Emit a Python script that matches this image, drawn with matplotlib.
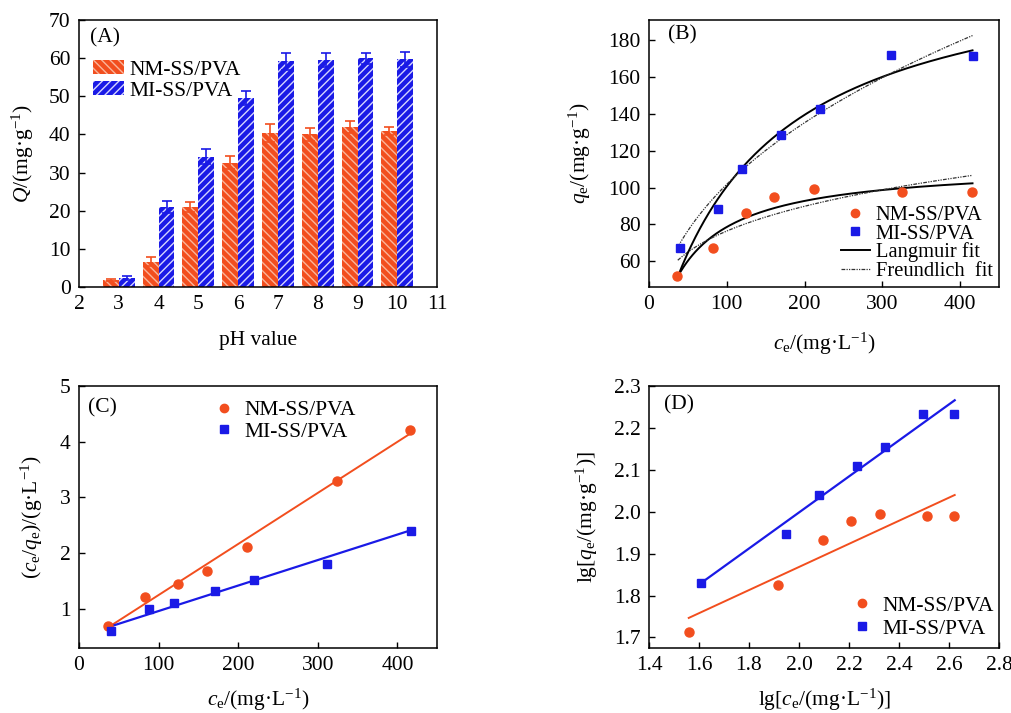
import numpy as np
import matplotlib
matplotlib.use("Agg")
import matplotlib.pyplot as plt
from matplotlib.patches import Patch
from matplotlib.lines import Line2D

plt.rcParams['font.family'] = ['Liberation Serif', 'DejaVu Serif']
plt.rcParams['mathtext.fontset'] = 'custom'
plt.rcParams['mathtext.rm'] = 'Liberation Serif'
plt.rcParams['mathtext.it'] = 'Liberation Serif:italic'
plt.rcParams['font.size'] = 15.5
plt.rcParams['hatch.linewidth'] = 1.0

ORANGE = '#F24E1E'
BLUE = '#1A1AE6'

# (A) adsorption vs pH
ph = [3, 4, 5, 6, 7, 8, 9, 10]
q_nm = [1.8, 6.6, 20.9, 32.6, 40.3, 40.0, 42.0, 40.9]
q_nm_err = [0.3, 1.2, 1.3, 1.7, 2.4, 1.7, 1.6, 1.0]
q_mi = [2.4, 20.9, 34.2, 49.5, 59.2, 59.5, 59.9, 59.7]
q_mi_err = [0.6, 1.6, 2.0, 1.8, 2.2, 1.9, 1.5, 2.0]

# (B) isotherms
ce_nm = [36.0, 82.6, 124.7, 161.0, 211.6, 324.7, 415.5]
qe_nm = [51.9, 67.0, 86.2, 94.9, 99.1, 97.6, 97.6]
ce_mi = [40.0, 88.6, 120.0, 170.3, 219.4, 311.8, 416.8]
qe_mi = [67.4, 88.6, 109.8, 128.8, 142.9, 171.9, 171.5]
# fit parameters (qm, KL) and (KF, 1/n)
lang_nm = (113.1, 0.02276)
lang_mi = (227.4, 0.00793)
freu_nm = (26.0, 0.234)
freu_mi = (15.4, 0.41)

# (C) Langmuir linear form
cq_nm = [0.695, 1.222, 1.443, 1.689, 2.12, 3.299, 4.216]
cq_mi = [0.60, 0.994, 1.102, 1.317, 1.527, 1.808, 2.407]
linC_nm = (0.00916, 0.333)
linC_mi = (0.004573, 0.505)

# (D) Freundlich linear form
lgc_nm = [1.561, 1.917, 2.097, 2.209, 2.325, 2.512, 2.619]
lgq_nm = [1.714, 1.826, 1.933, 1.977, 1.995, 1.989, 1.989]
lgc_mi = [1.608, 1.947, 2.081, 2.232, 2.343, 2.496, 2.620]
lgq_mi = [1.829, 1.947, 2.040, 2.108, 2.155, 2.234, 2.234]
linD_nm = (0.2756, 1.317)
linD_mi = (0.4296, 1.139)

fig = plt.figure(figsize=(10.12, 7.13), dpi=100)
axA = fig.add_axes([0.078, 0.5975, 0.354, 0.3745])
axB = fig.add_axes([0.6413, 0.5975, 0.3458, 0.3745])
axC = fig.add_axes([0.078, 0.0912, 0.354, 0.3675])
axD = fig.add_axes([0.6413, 0.0912, 0.3458, 0.3675])

for ax in (axA, axB, axC, axD):
    ax.tick_params(direction='in', length=4.5, width=1, pad=6, labelsize=15.5)
    for s in ax.spines.values():
        s.set_linewidth(1.1)

# ---- A
x = np.array(ph)
w = 0.4
axA.bar(x - 0.2, q_nm, w, color=ORANGE, edgecolor='#FAB59A', hatch='\\\\\\\\', linewidth=0)
axA.bar(x + 0.2, q_mi, w, color=BLUE, edgecolor='#D5D5FF', hatch='////', linewidth=0)
axA.errorbar(x - 0.2, q_nm, yerr=q_nm_err, fmt='none', ecolor=ORANGE, capsize=3.5, elinewidth=1.2, capthick=1.2)
axA.errorbar(x + 0.2, q_mi, yerr=q_mi_err, fmt='none', ecolor=BLUE, capsize=3.5, elinewidth=1.2, capthick=1.2)
axA.set_xlim(2, 11)
axA.set_ylim(0, 70)
axA.set_xticks(range(2, 12))
axA.set_yticks(range(0, 71, 10))
axA.tick_params(axis='x', length=0)
axA.set_xlabel('pH value')
axA.set_ylabel(r'$\mathit{Q}$/(mg·g$^{-1}$)')
axA.xaxis.set_label_coords(0.5, -0.165)
axA.yaxis.set_label_coords(-0.12, 0.5)
axA.text(0.03, 0.933, '(A)', transform=axA.transAxes, va='center')
hA = [Patch(facecolor=ORANGE, edgecolor='#FAB59A', hatch='\\\\\\\\', linewidth=0),
      Patch(facecolor=BLUE, edgecolor='#D5D5FF', hatch='////', linewidth=0)]
axA.legend(hA, ['NM-SS/PVA', 'MI-SS/PVA'], loc='upper left', bbox_to_anchor=(0.04, 0.85),
           frameon=False, handlelength=1.45, handleheight=0.65, handletextpad=0.25,
           labelspacing=0.05, borderpad=0, borderaxespad=0)

# ---- B
xf = np.linspace(37, 416, 200)
for (qm, kl), (kf, n1) in ((lang_nm, freu_nm), (lang_mi, freu_mi)):
    axB.plot(xf, qm * kl * xf / (1 + kl * xf), color='black', lw=1.4)
    axB.plot(xf, kf * xf ** n1, color='#333333', lw=0.9, dashes=(3, 1, 1, 1, 1, 1))
axB.plot(ce_nm, qe_nm, 'o', color=ORANGE, ms=6.5, zorder=3)
axB.plot(ce_mi, qe_mi, 's', color=BLUE, ms=6, zorder=3)
axB.set_xlim(0, 450)
axB.set_ylim(46, 191)
axB.set_xticks(range(0, 401, 100))
axB.set_yticks(range(60, 181, 20))
axB.set_xlabel(r'$c_\mathrm{e}$/(mg·L$^{-1}$)')
axB.set_ylabel(r'$q_\mathrm{e}$/(mg·g$^{-1}$)')
axB.xaxis.set_label_coords(0.5, -0.165)
axB.yaxis.set_label_coords(-0.16, 0.5)
axB.text(0.054, 0.944, '(B)', transform=axB.transAxes, va='center')
hB = [Line2D([], [], ls='none', marker='o', color=ORANGE, ms=6),
      Line2D([], [], ls='none', marker='s', color=BLUE, ms=5.5),
      Line2D([], [], color='black', lw=1.4),
      Line2D([], [], color='#333333', lw=0.9, dashes=(3, 1, 1, 1, 1, 1))]
axB.legend(hB, ['NM-SS/PVA', 'MI-SS/PVA', 'Langmuir fit', 'Freundlich  fit'],
           loc='lower right', bbox_to_anchor=(1.0, 0.0), frameon=False, fontsize=14.8,
           handlelength=1.4, handletextpad=0.3, labelspacing=-0.05,
           borderpad=0.2, borderaxespad=0.1)

# ---- C
xl = np.array([37, 416])
axC.plot(xl, linC_nm[0] * xl + linC_nm[1], color=ORANGE, lw=1.4)
axC.plot(xl + 2, linC_mi[0] * (xl + 2) + linC_mi[1], color=BLUE, lw=1.6)
axC.plot(ce_nm, cq_nm, 'o', color=ORANGE, ms=6.5, zorder=3)
axC.plot(ce_mi, cq_mi, 's', color=BLUE, ms=6, zorder=3)
axC.set_xlim(0, 450)
axC.set_ylim(0.3, 5)
axC.set_xticks(range(0, 401, 100))
axC.set_yticks(range(1, 6))
axC.set_xlabel(r'$c_\mathrm{e}$/(mg·L$^{-1}$)')
axC.set_ylabel(r'($c_\mathrm{e}$/$q_\mathrm{e}$)/(g·L$^{-1}$)')
axC.xaxis.set_label_coords(0.5, -0.15)
axC.yaxis.set_label_coords(-0.095, 0.5)
axC.text(0.025, 0.916, '(C)', transform=axC.transAxes, va='center')
hC = [Line2D([], [], ls='none', marker='o', color=ORANGE, ms=6),
      Line2D([], [], ls='none', marker='s', color=BLUE, ms=5.5)]
axC.legend(hC, ['NM-SS/PVA', 'MI-SS/PVA'], loc='upper left', bbox_to_anchor=(0.38, 0.945),
           frameon=False, handlelength=0.8, handletextpad=0.55, labelspacing=0.05,
           borderpad=0, borderaxespad=0)

# ---- D
xd_nm = np.array([1.559, 2.623])
xd_mi = np.array([1.60, 2.623])
axD.plot(xd_nm, linD_nm[0] * xd_nm + linD_nm[1], color=ORANGE, lw=1.4)
axD.plot(xd_mi, linD_mi[0] * xd_mi + linD_mi[1], color=BLUE, lw=1.6)
axD.plot(lgc_nm, lgq_nm, 'o', color=ORANGE, ms=6.5, zorder=3)
axD.plot(lgc_mi, lgq_mi, 's', color=BLUE, ms=6, zorder=3)
axD.set_xlim(1.4, 2.8)
axD.set_ylim(1.675, 2.3)
axD.set_xticks(np.arange(1.4, 2.81, 0.2))
axD.set_yticks(np.arange(1.7, 2.31, 0.1))
axD.xaxis.set_major_formatter(matplotlib.ticker.FormatStrFormatter('%.1f'))
axD.yaxis.set_major_formatter(matplotlib.ticker.FormatStrFormatter('%.1f'))
axD.set_xlabel(r'lg[$c_\mathrm{e}$/(mg·L$^{-1}$)]')
axD.set_ylabel(r'lg[$q_\mathrm{e}$/(mg·g$^{-1}$)]')
axD.xaxis.set_label_coords(0.5, -0.15)
axD.yaxis.set_label_coords(-0.14, 0.5)
axD.text(0.043, 0.927, '(D)', transform=axD.transAxes, va='center')
axD.legend(hC, ['NM-SS/PVA', 'MI-SS/PVA'], loc='lower right', bbox_to_anchor=(0.985, 0.035),
           frameon=False, handlelength=0.8, handletextpad=0.55, labelspacing=0.15,
           borderpad=0, borderaxespad=0)

fig.savefig('out.png', dpi=100)
